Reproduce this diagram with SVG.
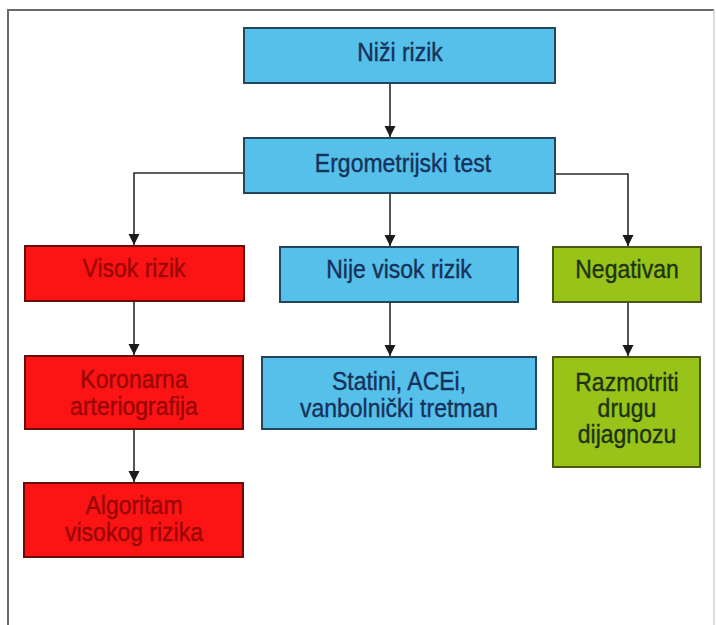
<svg xmlns="http://www.w3.org/2000/svg" width="716" height="625" viewBox="0 0 716 625">
<style>
.blue{fill:#55c0ea;stroke:#23465e;stroke-width:2}
.red{fill:#fc1414;stroke:#6a0c0c;stroke-width:2}
.green{fill:#98c41a;stroke:#4a5814;stroke-width:2}
text{font-family:"Liberation Sans",Arial,sans-serif;font-size:23px;text-anchor:middle;stroke-width:0.35}
.tb{fill:#17325a;stroke:#17325a}
.tr{fill:#9a0606;stroke:#9a0606}
.tg{fill:#1e3410;stroke:#1e3410}
.conn{fill:none;stroke:#2a2a2a;stroke-width:1.6}
</style>
<defs>
<marker id="ah" markerUnits="userSpaceOnUse" markerWidth="11" markerHeight="12" refX="10" refY="5" orient="auto" viewBox="0 0 10 10">
<path d="M0,0 L10,5 L0,10 Z" fill="#1a1a1a"/>
</marker>
</defs>
<rect x="0" y="0" width="716" height="625" fill="#ffffff"/>
<g id="frame">
<path d="M8,630 V10 H714" fill="none" stroke="#6a6a6a" stroke-width="2"/>
<path d="M714,10 V630" fill="none" stroke="#d0d0d0" stroke-width="1.5"/>
</g>
<g id="connectors">
<path class="conn" d="M390,83 V137" marker-end="url(#ah)"/>
<path class="conn" d="M244,173 H134 V245" marker-end="url(#ah)"/>
<path class="conn" d="M390,193 V246" marker-end="url(#ah)"/>
<path class="conn" d="M555,174 H628 V246" marker-end="url(#ah)"/>
<path class="conn" d="M134,301 V355" marker-end="url(#ah)"/>
<path class="conn" d="M134,429 V482" marker-end="url(#ah)"/>
<path class="conn" d="M390,302 V356" marker-end="url(#ah)"/>
<path class="conn" d="M628,302 V356" marker-end="url(#ah)"/>
</g>
<g id="nizi-rizik">
<rect class="blue" x="244" y="28" width="311" height="55"/>
<text class="tb" transform="translate(400 61) scale(1 1.12)">Niži rizik</text>
</g>
<g id="ergometrijski-test">
<rect class="blue" x="244" y="138" width="311" height="55"/>
<text class="tb" transform="translate(403 172) scale(1 1.12)">Ergometrijski test</text>
</g>
<g id="visok-rizik">
<rect class="red" x="25" y="246" width="219" height="55"/>
<text class="tr" transform="translate(134 277) scale(1 1.12)">Visok rizik</text>
</g>
<g id="nije-visok-rizik">
<rect class="blue" x="280" y="247" width="238" height="55"/>
<text class="tb" transform="translate(399 278) scale(1 1.12)">Nije visok rizik</text>
</g>
<g id="negativan">
<rect class="green" x="553" y="247" width="148" height="55"/>
<text class="tg" transform="translate(627 278) scale(1 1.12)">Negativan</text>
</g>
<g id="koronarna-arteriografija">
<rect class="red" x="25" y="356" width="218" height="73"/>
<text class="tr" transform="translate(134 388) scale(1 1.12)">Koronarna</text>
<text class="tr" transform="translate(134 415) scale(1 1.12)">arteriografija</text>
</g>
<g id="statini">
<rect class="blue" x="262" y="357" width="274" height="72"/>
<text class="tb" transform="translate(399 390) scale(1 1.12)">Statini, ACEi,</text>
<text class="tb" transform="translate(399 417) scale(1 1.12)">vanbolnički tretman</text>
</g>
<g id="razmotriti">
<rect class="green" x="553" y="357" width="147" height="110"/>
<text class="tg" transform="translate(627 391) scale(1 1.12)">Razmotriti</text>
<text class="tg" transform="translate(627 417) scale(1 1.12)">drugu</text>
<text class="tg" transform="translate(627 443) scale(1 1.12)">dijagnozu</text>
</g>
<g id="algoritam">
<rect class="red" x="24" y="483" width="219" height="74"/>
<text class="tr" transform="translate(134 514) scale(1 1.12)">Algoritam</text>
<text class="tr" transform="translate(134 541) scale(1 1.12)">visokog rizika</text>
</g>
</svg>
